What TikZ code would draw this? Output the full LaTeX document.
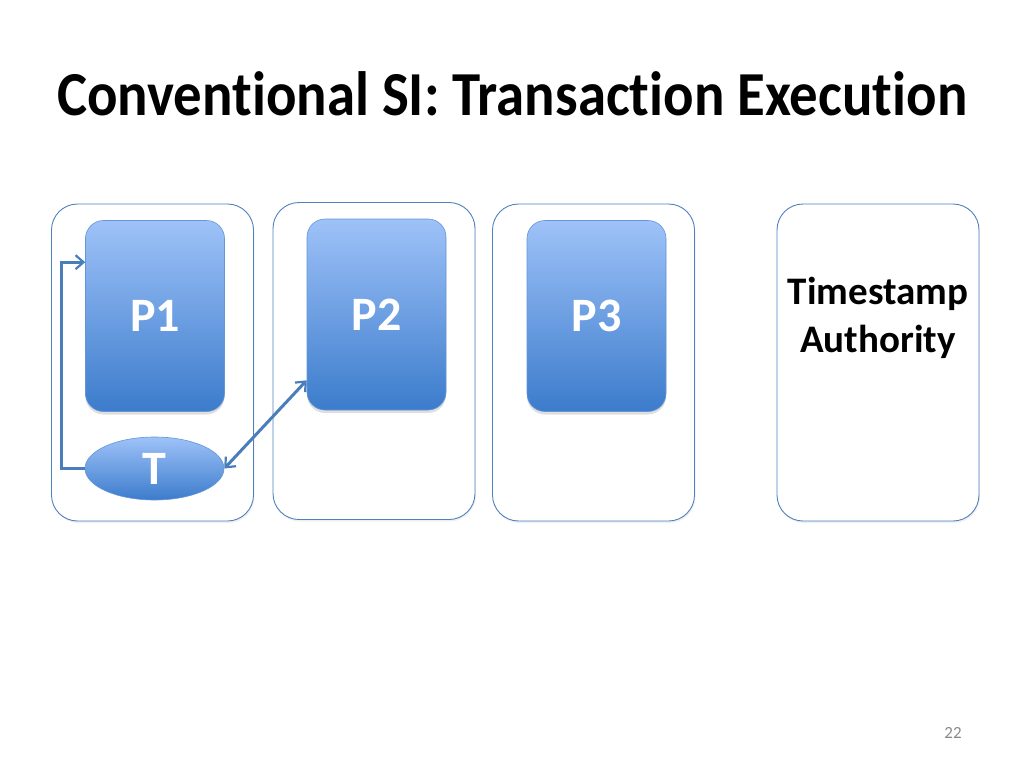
\documentclass[tikz,border=0pt]{standalone}
\usepackage{fontspec}
\setmainfont{Carlito}[Ligatures=NoCommon]
\usetikzlibrary{arrows.meta,shadows,shapes.geometric}
\definecolor{outerline}{RGB}{79,129,189}
\definecolor{ptop}{RGB}{158,194,248}
\definecolor{pbot}{RGB}{60,124,204}
\definecolor{arrowcol}{RGB}{74,126,187}
\definecolor{pagegray}{RGB}{137,137,137}
\tikzset{
  outerbox/.style={draw=outerline, line width=0.9pt, rounded corners=26pt, fill=white,
    minimum width=202pt, minimum height=317pt, inner sep=0pt,
    drop shadow={opacity=0.12, shadow xshift=1pt, shadow yshift=-2pt}},
  pbox/.style={draw=pbot!80!white, line width=0.6pt, rounded corners=18pt,
    top color=ptop, bottom color=pbot, minimum width=139pt, minimum height=191pt,
    inner sep=0pt, text=white, font=\fontsize{48}{52}\selectfont\bfseries,
    drop shadow={opacity=0.25, shadow xshift=0pt, shadow yshift=-3pt}},
  tnode/.style={ellipse, draw=pbot!80!white, line width=0.6pt,
    top color=ptop, bottom color=pbot, minimum width=139pt, minimum height=63pt,
    inner sep=0pt, text=white, font=\fontsize{48}{52}\selectfont\bfseries},
  conn/.style={draw=arrowcol, line width=3pt},
  mybarb/.tip={Straight Barb[length=8pt,width=14pt,line width=2.2pt]}
}
\begin{document}
\begin{tikzpicture}[x=1pt,y=-1pt]
\useasboundingbox (0,0) rectangle (1024,768);
% title
\node[anchor=base west, inner sep=0pt, font=\fontsize{62.6}{70}\selectfont\bfseries] (title) at (57,115) {\resizebox{910pt}{\height}{Conventional SI: Transaction Execution}};
% outer boxes
\node[outerbox] (b1) at (152.5,362.5) {};
\node[outerbox] (b2) at (374,361) {};
\node[outerbox] (b3) at (593.5,362.5) {};
\node[outerbox] (b4) at (878,362.5) {};
% inner nodes
\node[pbox] (p1) at (155,316) {P1};
\node[pbox] (p2) at (376.5,314.5) {P2};
\node[pbox] (p3) at (596.5,316) {P3};
\node[tnode] (t) at (154.5,468.5) {T};
% timestamp authority
\node[align=center, inner sep=0pt, font=\fontsize{39}{48}\selectfont\bfseries] (ta) at (878,318) {Timestamp\\Authority};
% connectors
\draw[conn, -{mybarb}] (t.west) -- ++(-23,0) |- ([yshift=-42pt]p1.north west);
\draw[conn, {mybarb}-{mybarb}] (t.east) -- ([yshift=30pt]p2.south west);
% page number
\node[anchor=base, inner sep=0pt, text=pagegray, font=\fontsize{17}{20}\selectfont] (pg) at (953,738) {22};
\end{tikzpicture}
\end{document}
